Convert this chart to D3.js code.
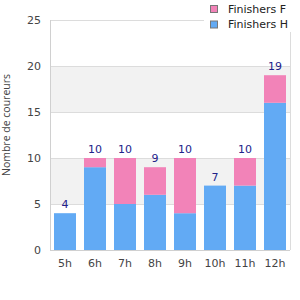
<!DOCTYPE html>
<html><head><meta charset="utf-8">
<script src="https://cdn.jsdelivr.net/npm/d3@7"></script>
<style>body{margin:0;background:#fff}svg{display:block;font-family:"DejaVu Sans",sans-serif}</style>
</head><body>
<svg id="c" width="300" height="300"></svg>
<script>
const categories = ["5h","6h","7h","8h","9h","10h","11h","12h"];
const finishersH = [4,9,5,6,4,7,7,16];
const finishersF = [0,1,5,3,6,0,3,3];
const yTicks = [0,5,10,15,20,25];
const seriesNames = ["Finishers F","Finishers H"];
const colors = {"Finishers H":"#62aaf4","Finishers F":"#f283b8"};

const svg = d3.select("#c");
const L=50,R=290,T=20,B=250;
const x = d3.scaleBand().domain(categories).range([L,R]).paddingInner(8/30).paddingOuter(4/30);
const y = d3.scaleLinear().domain([0,25]).range([B,T]);

// bands
[[5,10],[15,20]].forEach(([a,b])=>{
  svg.append("rect").attr("x",L).attr("y",y(b)).attr("width",R-L).attr("height",y(a)-y(b)).attr("fill","#f2f2f2");
});
// gridlines
svg.append("g").selectAll("line").data(yTicks).join("line")
  .attr("x1",L).attr("x2",R).attr("y1",d=>y(d)+0.5).attr("y2",d=>y(d)+0.5)
  .attr("stroke","#dcdcdc");
// frame
svg.append("line").attr("x1",L+0.5).attr("x2",L+0.5).attr("y1",T).attr("y2",B).attr("stroke","#d0d0d0");
svg.append("line").attr("x1",R+0.5).attr("x2",R+0.5).attr("y1",T).attr("y2",B).attr("stroke","#dcdcdc");
svg.append("line").attr("x1",L).attr("x2",R).attr("y1",B+0.5).attr("y2",B+0.5).attr("stroke","#d0d0d0");

const data = categories.map((c,i)=>({cat:c,"Finishers H":finishersH[i],"Finishers F":finishersF[i]}));
const stack = d3.stack().keys(["Finishers H","Finishers F"])(data);
svg.append("g").selectAll("g").data(stack).join("g").attr("fill",d=>colors[d.key])
  .selectAll("rect").data(d=>d).join("rect")
  .attr("x",d=>x(d.data.cat)).attr("width",x.bandwidth())
  .attr("y",d=>y(d[1])).attr("height",d=>y(d[0])-y(d[1]));

// totals
svg.append("g").selectAll("text").data(data).join("text")
  .attr("x",d=>x(d.cat)+x.bandwidth()/2)
  .attr("y",d=>y(d["Finishers H"]+d["Finishers F"])-5)
  .attr("text-anchor","middle").attr("font-size",11).attr("fill","#22228a")
  .text(d=>d["Finishers H"]+d["Finishers F"]);

// y axis labels
svg.append("g").selectAll("text").data(yTicks).join("text")
  .attr("x",41).attr("y",d=>y(d)+4).attr("text-anchor","end")
  .attr("font-size",11).attr("fill","#444").text(d=>d);
// x axis labels
svg.append("g").selectAll("text").data(categories).join("text")
  .attr("x",d=>x(d)+x.bandwidth()/2).attr("y",267).attr("text-anchor","middle")
  .attr("font-size",11).attr("fill","#444").text(d=>d);
// y title
svg.append("text").attr("transform","translate(10,125) rotate(-90)")
  .attr("text-anchor","middle").attr("font-size",10.5).attr("font-family","'Open Sans',sans-serif")
  .attr("fill","#444").text("Nombre de coureurs");

// legend
const lg = svg.append("g");
lg.append("rect").attr("x",204).attr("y",0).attr("width",96).attr("height",32).attr("fill","#fff");
seriesNames.forEach((s,i)=>{
  lg.append("rect").attr("x",210.5).attr("y",5.5+i*15.5).attr("width",7).attr("height",7)
    .attr("fill",colors[s]).attr("stroke","#777");
  lg.append("text").attr("x",228).attr("y",12.5+i*15.5).attr("font-size",11).attr("fill","#222").text(s);
});
</script>
</body></html>
